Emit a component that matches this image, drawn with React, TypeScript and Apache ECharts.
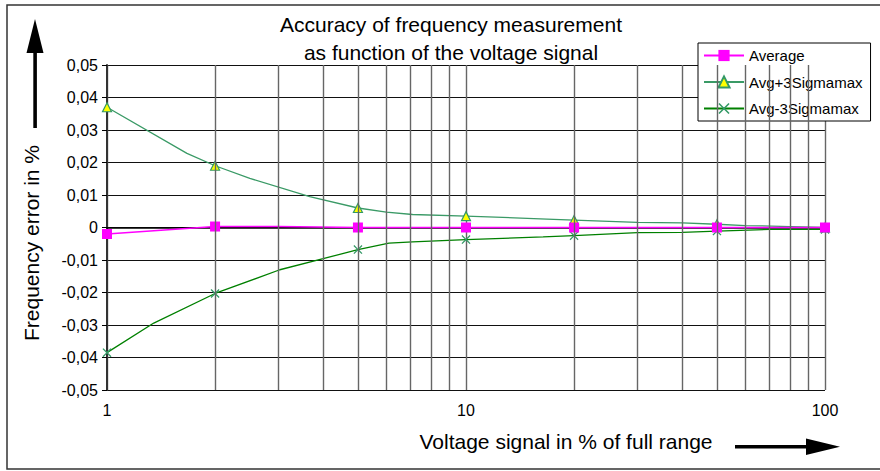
import React, { useEffect, useRef } from "react";
import * as echarts from "echarts";

const FONT = "'Liberation Sans', Arial, sans-serif";

const titleLines = ["Accuracy of frequency measurement", "as function of the voltage signal"];
const seriesNames = ["Average", "Avg+3Sigmamax", "Avg-3Sigmamax"];
const xAxisTitle = "Voltage signal in % of full range";
const yAxisTitle = "Frequency error in %";

// x positions where the markers are drawn
const markerX = [1, 2, 5, 10, 20, 50, 100];

const avgX = [1, 2, 3, 5, 10, 20, 50, 100];
const avgY = [-0.002, 0.0003, 0.0003, 0, 0, 0, 0, 0];

const upperX = [1, 1.67, 2, 2.5, 3.67, 5, 6, 7.1, 10, 16.8, 20, 30, 40, 50, 60, 80, 100];
const upperY = [0.037, 0.0228, 0.019, 0.0151, 0.0095, 0.006, 0.0047, 0.004, 0.0035, 0.0026, 0.0023, 0.0016, 0.0014, 0.001, 0.0006, 0.0003, 0];

const lowerX = [1, 1.35, 2, 3.03, 4, 5, 6.1, 7.1, 10, 16.4, 20, 30, 40, 50, 70, 100];
const lowerY = [-0.0385, -0.0294, -0.0203, -0.013, -0.0096, -0.0068, -0.0048, -0.0044, -0.0037, -0.0029, -0.0025, -0.0016, -0.0015, -0.0011, -0.0006, -0.0006];

const xTickLabels = [1, 10, 100];
const minorGridX = [2, 3, 4, 5, 6, 7, 8, 9, 20, 30, 40, 50, 60, 70, 80, 90];

const CROSS = "path://M0,1L1,0L5,4L9,0L10,1L6,5L10,9L9,10L5,6L1,10L0,9L4,5Z";

function buildData(xs: number[], ys: number[]) {
  return xs.map((x, i) => {
    const item: any = { value: [x, ys[i]] };
    if (!markerX.includes(x)) item.symbol = "none";
    return item;
  });
}

export default function App() {
  const ref = useRef<HTMLDivElement>(null);

  useEffect(() => {
    if (!ref.current) return;
    const chart = echarts.init(ref.current, null, { renderer: "svg" });
    const option: any = {
      animation: false,
      backgroundColor: "#fff",
      textStyle: { fontFamily: FONT },
      title: {
        text: titleLines.join("\n"),
        left: 446,
        top: 5,
        textAlign: "center",
        textStyle: { fontFamily: FONT, fontSize: 21, fontWeight: "normal", color: "#000", lineHeight: 28 },
      },
      grid: { left: 107, right: 55, top: 65, bottom: 81, containLabel: false },
      legend: {
        data: seriesNames,
        orient: "vertical",
        left: 698,
        top: 43,
        padding: [5, 8, 5, 5],
        itemGap: 11.5,
        itemWidth: 40,
        itemHeight: 14,
        borderColor: "#000",
        borderWidth: 1,
        backgroundColor: "#fff",
        textStyle: { fontFamily: FONT, fontSize: 15, color: "#000" },
      },
      xAxis: {
        type: "log",
        logBase: 10,
        min: 1,
        max: 100,
        axisLine: { show: true, lineStyle: { color: "#000", width: 1.5 } },
        axisTick: { show: true, inside: false, length: 4, lineStyle: { color: "#000" } },
        axisLabel: {
          margin: 12,
          fontFamily: FONT,
          fontSize: 16,
          color: "#000",
          formatter: (v: number) => (xTickLabels.includes(Math.round(v)) ? String(Math.round(v)) : ""),
        },
        splitLine: { show: true, lineStyle: { color: "#666", width: 1.4 } },
        minorTick: { show: false },
      },
      yAxis: {
        type: "value",
        min: -0.05,
        max: 0.05,
        interval: 0.01,
        axisLine: { show: true, lineStyle: { color: "#333", width: 2 } },
        axisTick: { show: true, inside: false, length: 5, lineStyle: { color: "#000" } },
        axisLabel: {
          margin: 9,
          fontFamily: FONT,
          fontSize: 16,
          color: "#000",
          formatter: (v: number) => (Math.abs(v) < 1e-9 ? "0" : v.toFixed(2).replace(".", ",")),
        },
        splitLine: { show: true, lineStyle: { color: "#111", width: 1 } },
      },
      graphic: [
        {
          type: "rect",
          shape: { x: 7, y: 5, width: 900, height: 464 },
          style: { fill: "none", stroke: "#333", lineWidth: 1.5 },
          silent: true,
          z: -10,
        },
        // y arrow
        { type: "rect", shape: { x: 33.3, y: 50, width: 3.6, height: 78 }, style: { fill: "#000" }, silent: true },
        {
          type: "polygon",
          shape: { points: [[35, 19], [26.5, 53], [43.5, 53]] },
          style: { fill: "#000" },
          silent: true,
        },
        // x arrow
        { type: "rect", shape: { x: 735, y: 445, width: 75, height: 3.5 }, style: { fill: "#000" }, silent: true },
        {
          type: "polygon",
          shape: { points: [[840, 446.7], [806, 438.5], [806, 455]] },
          style: { fill: "#000" },
          silent: true,
        },
        {
          type: "text",
          x: 566,
          y: 441,
          style: {
            text: xAxisTitle,
            fontFamily: FONT,
            fontSize: 21,
            fill: "#000",
            textAlign: "center",
            textVerticalAlign: "middle",
          },
        },
        {
          type: "text",
          x: 31,
          y: 243,
          rotation: Math.PI / 2,
          style: {
            text: yAxisTitle,
            fontFamily: FONT,
            fontSize: 21,
            fill: "#000",
            textAlign: "center",
            textVerticalAlign: "middle",
          },
        },
      ],
      series: [
        {
          name: "grid",
          type: "line",
          data: [],
          silent: true,
          z: 1,
          markLine: {
            silent: true,
            symbol: "none",
            label: { show: false },
            lineStyle: { color: "#666", width: 1.4, type: "solid" },
            data: minorGridX.map((x) => ({ xAxis: x })),
          },
        },
        {
          name: seriesNames[0],
          type: "line",
          z: 4,
          data: buildData(avgX, avgY),
          symbol: "rect",
          symbolSize: 10,
          showAllSymbol: true,
          lineStyle: { color: "#ff00ff", width: 1.5 },
          itemStyle: { color: "#ff00ff" },
        },
        {
          name: seriesNames[1],
          type: "line",
          z: 3,
          data: buildData(upperX, upperY),
          symbol: "triangle",
          symbolSize: 9,
          showAllSymbol: true,
          lineStyle: { color: "#3a9a66", width: 1.3 },
          itemStyle: { color: "#ffff00", borderColor: "#339966", borderWidth: 1.2 },
        },
        {
          name: seriesNames[2],
          type: "line",
          z: 3,
          data: buildData(lowerX, lowerY),
          symbol: CROSS,
          symbolSize: 9,
          showAllSymbol: true,
          lineStyle: { color: "#008000", width: 1.3 },
          itemStyle: { color: "#339966" },
        },
      ],
    };
    chart.setOption(option);
    return () => chart.dispose();
  }, []);

  return (
    <div
      ref={ref}
      style={{ position: "fixed", left: 0, top: 0, width: 880, height: 471, background: "#fff" }}
    />
  );
}
